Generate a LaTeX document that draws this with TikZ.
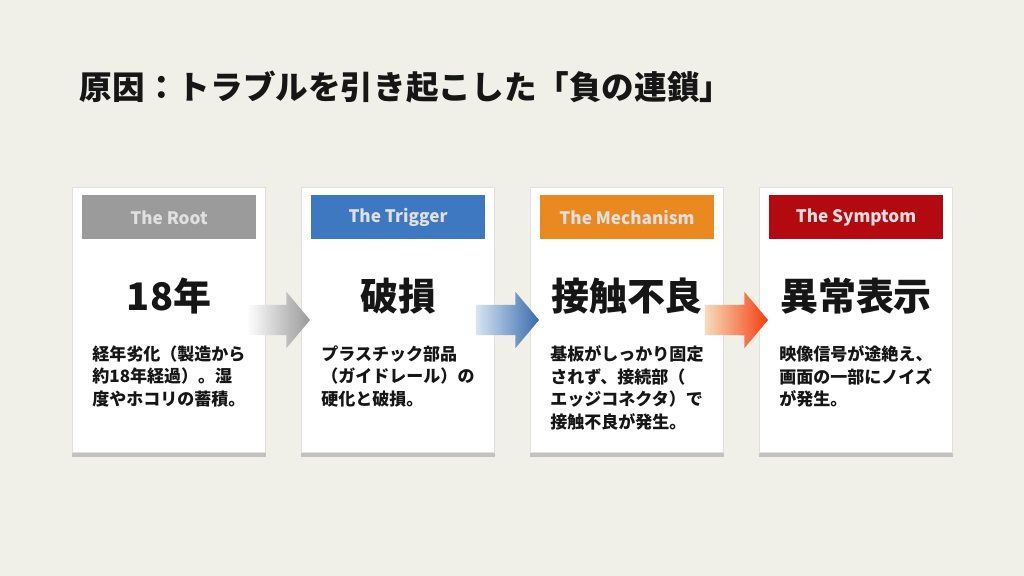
\documentclass[tikz,border=0pt]{standalone}
\usepackage{fontspec}
\setmainfont{Noto Sans CJK JP}
\usetikzlibrary{positioning,calc,shapes.arrows,shadows}

\definecolor{paper}{HTML}{F0EFE8}
\definecolor{ink}{HTML}{161616}
\definecolor{rootgray}{HTML}{9B9B9B}
\definecolor{triggerblue}{HTML}{3D78C0}
\definecolor{mechorange}{HTML}{E9891F}
\definecolor{symptomred}{HTML}{B30A10}

\begin{document}
\begin{tikzpicture}[
  x=0.025cm, y=-0.025cm,
  card/.style={draw=black!12, fill=white, minimum width=4.83cm, minimum height=6.63cm,
    drop shadow={shadow xshift=0pt, shadow yshift=-3pt, opacity=0.4}},
  headbar/.style={minimum width=4.35cm, minimum height=1.1cm, text=white!88!black,
    font=\bfseries\fontsize{12.2}{14}\selectfont},
  keyword/.style={text=ink, font=\bfseries\fontsize{27}{32}\selectfont},
  detail/.style={text=ink, anchor=north west, inner sep=0pt, align=left,
    font=\bfseries\fontsize{12.1}{16.2}\selectfont},
  flow/.style={single arrow, minimum height=1.58cm, inner xsep=0pt, inner ysep=0.37cm,
    single arrow head extend=0.33cm, single arrow tip angle=100}
]
\fill[paper] (0,0) rectangle (1024,576);
\useasboundingbox (0,0) rectangle (1024,576);

\node[anchor=west, text=ink, font=\bfseries\fontsize{23.2}{28}\selectfont] (title)
  at (75,87) {原因：トラブルを引き起こした「負の連鎖」};

\node[card] (c1) at (169,320) {};
\node[card] (c2) at (398,320) {};
\node[card] (c3) at (627,320) {};
\node[card] (c4) at (856,320) {};

\node[headbar, fill=rootgray, below=0.2cm of c1.north] (h1) {The Root};
\node[headbar, fill=triggerblue, below=0.2cm of c2.north] (h2) {The Trigger};
\node[headbar, fill=mechorange, below=0.2cm of c3.north] (h3) {The Mechanism};
\node[headbar, fill=symptomred, below=0.2cm of c4.north] (h4) {The Symptom};

\node[keyword] (k1) at ($(c1.north)+(0,109)$) {18年};
\node[keyword] (k2) at ($(c2.north)+(0,109)$) {破損};
\node[keyword] (k3) at ($(c3.north)+(0,109)$) {接触不良};
\node[keyword] (k4) at ($(c4.north)+(0,109)$) {異常表示};

\node[detail] (d1) at ($(c1.north west)+(20,158)$)
  {経年劣化（製造から\\約18年経過）。湿\\度やホコリの蓄積。};
\node[detail] (d2) at ($(c2.north west)+(20,158)$)
  {プラスチック部品\\（ガイドレール）の\\硬化と破損。};
\node[detail] (d3) at ($(c3.north west)+(20,158)$)
  {基板がしっかり固定\\されず、接続部（\\エッジコネクタ）で\\接触不良が発生。};
\node[detail] (d4) at ($(c4.north west)+(20,158)$)
  {映像信号が途絶え、\\画面の一部にノイズ\\が発生。};

\node[flow, left color=white, right color=black!40] (a1) at ($(c2.west)+(-29,0)$) {};
\node[flow, left color=triggerblue!20, right color=triggerblue!90!black] (a2) at ($(c3.west)+(-29,0)$) {};
\node[flow, left color=mechorange!30, middle color=mechorange, right color=red!55!mechorange] (a3) at ($(c4.west)+(-29,0)$) {};

\end{tikzpicture}
\end{document}
